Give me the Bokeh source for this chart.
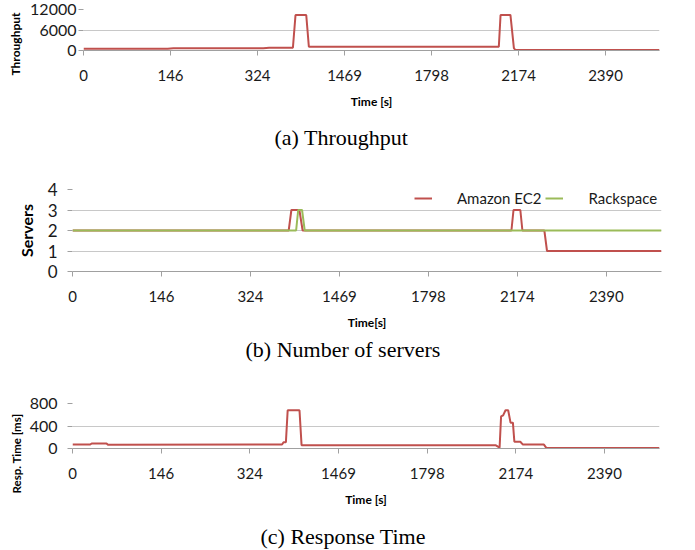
from bokeh.plotting import figure
from bokeh.layouts import column
from bokeh.models import Range1d, Legend, LegendItem, Title
from bokeh.embed import file_html
from bokeh.resources import INLINE

# ---- data -------------------------------------------------------------
# x axis is the sample index of the measurement series; labels are times [s]
x_ticks = [0, 30, 60, 90, 120, 150, 180]
x_tick_labels = ["0", "146", "324", "1469", "1798", "2174", "2390"]
x_end = 198.6

# (a) Throughput
tp_x = [0, 29, 31, 62, 64, 72.2, 73.1, 76.8, 77.7, 143.2, 143.8, 147.2, 148.4, 148.9, 198.6]
tp_y = [500, 500, 650, 650, 800, 800, 10400, 10400, 1100, 1100, 10400, 10400, 700, 150, 150]

# (b) Number of servers
ec2_x = [0, 72.9, 73.8, 76.5, 77.6, 148.0, 148.7, 151.0, 151.7, 159.1, 160.0, 198.6]
ec2_y = [2, 2, 3, 3, 2, 2, 3, 3, 2, 2, 1, 1]
rs_x = [0, 75.4, 76.1, 77.4, 78.3, 198.6]
rs_y = [2, 2, 3, 3, 2, 2]

# (c) Response time [ms]
rt_x = [0, 6, 6.5, 11.5, 12, 70.9, 71.4, 72.2, 72.8, 76.8, 77.5, 143.1, 144.5, 145.0,
        145.7, 146.5, 147.4, 148.2, 149.0, 149.5, 151.5, 152.4, 159.5, 160.3, 198.6]
rt_y = [70, 70, 90, 90, 65, 70, 110, 110, 680, 680, 60, 60, 15, 570,
        590, 680, 680, 460, 460, 120, 120, 70, 70, 10, 10]

# ---- styling ------------------------------------------------------------
RED = "#c0504d"
GREEN = "#9bbb59"
GRID = "#c8c8c8"
AXIS = "#a0a0a0"
FONT = "Lato"
TXT = "#1a1a1a"
RIGHT = 30


def make_fig(frame_w, frame_h, left, top, bottom, y_end, y_ticks,
             ylab_size, ylab_standoff, x_title, caption, cap_offset, cap_standoff):
    p = figure(frame_width=frame_w, frame_height=frame_h,
               min_border_left=left, min_border_right=RIGHT,
               min_border_top=top, min_border_bottom=bottom,
               x_range=Range1d(0, x_end), y_range=Range1d(0, y_end),
               output_backend="svg", toolbar_location=None, tools="",
               title=caption, title_location="below", frame_align=False)
    p.outline_line_color = None
    p.background_fill_color = "white"
    p.border_fill_color = "white"
    p.xgrid.grid_line_color = None
    p.ygrid.grid_line_color = GRID
    p.ygrid.grid_line_width = 1

    p.title.align = "left"
    p.title.offset = cap_offset
    p.title.standoff = cap_standoff
    p.title.text_font = "Liberation Serif"
    p.title.text_font_style = "normal"
    p.title.text_font_size = "22px"
    p.title.text_color = "black"

    xa = p.xaxis[0]
    xa.ticker = x_ticks
    xa.major_label_overrides = dict(zip(x_ticks, x_tick_labels))
    xa.axis_line_color = AXIS
    xa.major_tick_line_color = AXIS
    xa.major_tick_out = 5
    xa.major_tick_in = 0
    xa.minor_tick_line_color = None
    xa.major_label_text_font = FONT
    xa.major_label_text_font_size = "15px"
    xa.major_label_text_color = TXT
    xa.major_label_standoff = 14
    xa.axis_label = x_title
    xa.axis_label_text_font = FONT
    xa.axis_label_text_font_style = "bold"
    xa.axis_label_text_font_size = "12px"
    xa.axis_label_text_color = "black"
    xa.axis_label_standoff = 10

    ya = p.yaxis[0]
    ya.ticker = y_ticks
    ya.axis_line_color = None
    ya.major_tick_line_color = AXIS
    ya.major_tick_out = 5
    ya.major_tick_in = 0
    ya.minor_tick_line_color = None
    ya.major_label_text_font = FONT
    ya.major_label_text_font_size = ylab_size
    ya.major_label_text_color = TXT
    ya.major_label_standoff = ylab_standoff
    return p


def side_title(p, text, size, offset, standoff):
    p.add_layout(Title(text=text, align="left", offset=offset, standoff=standoff,
                       text_font=FONT, text_font_style="bold",
                       text_font_size=size, text_color="black"), "left")


# (a)
p1 = make_fig(576, 41, 83, 9, 112, 12000, [0, 6000, 12000], "16px", 2,
              "Time [s]", "(a) Throughput", 191, 22)
p1.line(tp_x, tp_y, line_color=RED, line_width=2)
side_title(p1, "Throughput", "12px", -25, 10)

# (b)
p2 = make_fig(589, 82, 72, 27, 100, 4, [0, 1, 2, 3, 4], "17px", 10,
              "Time[s]", "(b) Number of servers", 173, 5)
p2.yaxis[0].axis_label = "Servers"
p2.yaxis[0].axis_label_text_font = FONT
p2.yaxis[0].axis_label_text_font_style = "bold"
p2.yaxis[0].axis_label_text_font_size = "16px"
p2.yaxis[0].axis_label_text_color = "black"
p2.yaxis[0].axis_label_standoff = 9
r1 = p2.line(ec2_x, ec2_y, line_color=RED, line_width=2)
r2 = p2.line(rs_x, rs_y, line_color=GREEN, line_width=2)
legend = Legend(items=[LegendItem(label="Amazon EC2", renderers=[r1]),
                       LegendItem(label="Rackspace", renderers=[r2])],
                orientation="horizontal", location=(342, 63),
                glyph_width=18, glyph_height=20, label_height=20,
                label_standoff=25, spacing=4, padding=0, margin=0,
                border_line_color=None, background_fill_color="white",
                background_fill_alpha=1.0, label_text_font=FONT,
                label_text_font_size="15px", label_text_color=TXT)
p2.add_layout(legend)

# (c)
p3 = make_fig(587, 45, 72, 32, 114, 800, [0, 400, 800], "16px", 10,
              "Time [s]", "(c) Response Time", 188, 24)
p3.line(rt_x, rt_y, line_color=RED, line_width=2)
side_title(p3, "Resp. Time [ms]", "11.5px", -45, 8)

layout = column(p1, p2, p3, spacing=0)

open("out.html", "w").write(file_html(layout, INLINE))
